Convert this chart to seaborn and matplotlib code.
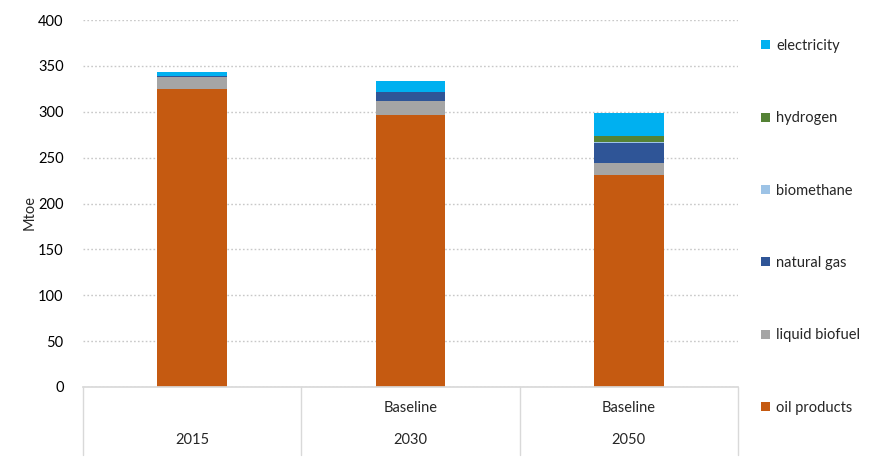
import numpy as np
import pandas as pd
import matplotlib
matplotlib.use("Agg")
import matplotlib.pyplot as plt
import seaborn as sns
from matplotlib.patches import Patch
import matplotlib.transforms as mtransforms

years = ["2015", "2030", "2050"]
scenarios = ["", "Baseline", "Baseline"]
series = ["oil products", "liquid biofuel", "natural gas", "biomethane", "hydrogen", "electricity"]
oil_products = [325, 296, 231]
liquid_biofuel = [13, 16, 13]
natural_gas = [1, 10, 22]
biomethane = [0, 0, 1]
hydrogen = [0, 0, 7]
electricity = [4, 12, 25]
colors = ["#C55A11", "#A5A5A5", "#2F5597", "#9DC3E6", "#548235", "#00B0F0"]

sns.set_theme(style="white")
plt.rcParams['font.family'] = ['Lato', 'DejaVu Sans']

values = [oil_products, liquid_biofuel, natural_gas, biomethane, hydrogen, electricity]
cum = np.cumsum(np.array(values, dtype=float), axis=0)

fig = plt.figure(figsize=(8.86, 4.72), dpi=100)
ax = fig.add_axes([83/886, 1-387/472, (738-83)/886, (387-20)/472])

for i in range(len(series)-1, -1, -1):
    df = pd.DataFrame({"year": years, "value": cum[i]})
    sns.barplot(data=df, x="year", y="value", order=years, color=colors[i],
                width=0.32, ax=ax, saturation=1, linewidth=0, errorbar=None)

ax.set_xlim(-0.5, 2.5)
ax.set_ylim(0, 400)
ax.set_yticks(np.arange(0, 401, 50))
ax.tick_params(axis='y', labelsize=10.5, colors='#000000', length=0, pad=14)
ax.set_xticks([])
ax.set_xlabel("")
ax.set_ylabel("")
fig.text(30/886, 1-212/472, "Mtoe", rotation=90, ha="center", va="center", fontsize=10.5)
for s in ["left", "right", "top"]:
    ax.spines[s].set_visible(False)
ax.spines["bottom"].set_color("#D9D9D9")
ax.yaxis.grid(True, linestyle=(0, (1.2, 1.6)), color="#C8C8C8", linewidth=1)
ax.set_axisbelow(True)

trans = mtransforms.blended_transform_factory(ax.transData, ax.transAxes)
for xv in [-0.5, 0.5, 1.5, 2.5]:
    ax.plot([xv, xv], [0, -68/367], transform=trans, color="#D9D9D9", lw=1, clip_on=False)
for i, (yr, sc) in enumerate(zip(years, scenarios)):
    ax.text(i, -21/367, sc, transform=trans, ha="center", va="center", fontsize=10.5)
    ax.text(i, -53/367, yr, transform=trans, ha="center", va="center", fontsize=10.5)

handles = [Patch(facecolor=colors[i], edgecolor='none', label=series[i]) for i in range(len(series)-1, -1, -1)]
leg = fig.legend(handles=handles, loc="upper left", bbox_to_anchor=(761/886, 1-39/472),
                 frameon=False, fontsize=10.5, handlelength=0.6, handleheight=0.6,
                 handletextpad=0.45, labelspacing=4.0, borderaxespad=0, borderpad=0)

fig.savefig("out.png", dpi=100)
